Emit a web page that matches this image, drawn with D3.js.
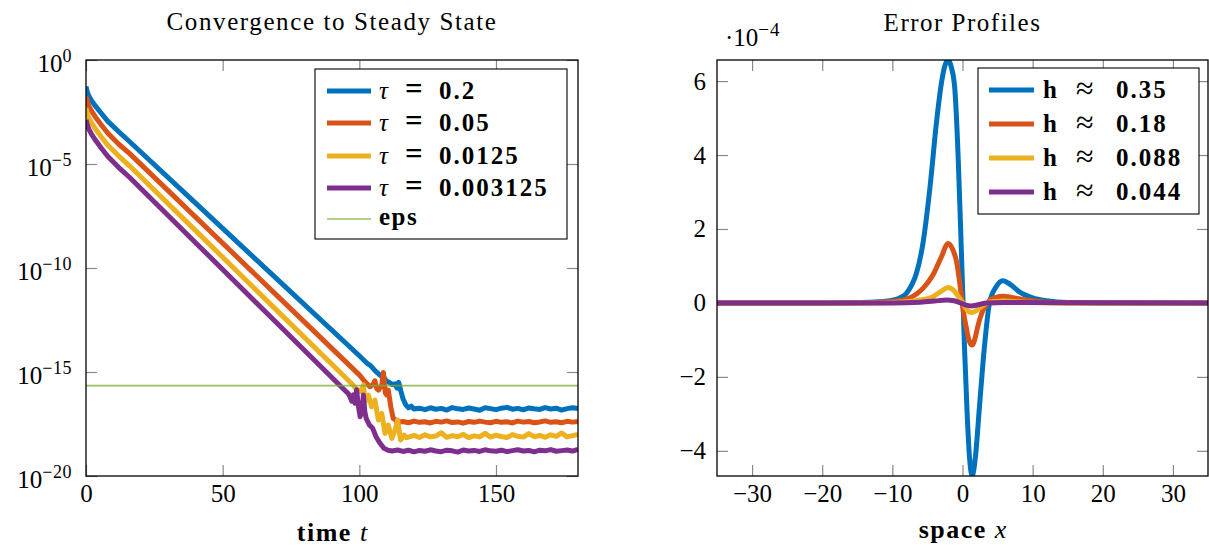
<!DOCTYPE html>
<html><head><meta charset="utf-8">
<script src="https://cdn.jsdelivr.net/npm/d3@7"></script>
<style>
body{margin:0;background:#fff}
svg{display:block}
text{font-family:'Liberation Serif','Times New Roman',serif;fill:#000}
</style>
</head><body>
<svg id="c" width="1209" height="548"></svg>
<script>
// ---------------- DATA ----------------
const colors = ["#0072BD", "#D95319", "#EDB120", "#7E2F8E"];
const epsColor = "#77AC30";
const tauLabels = ["0.2", "0.05", "0.0125", "0.003125"];
const hLabels = ["0.35", "0.18", "0.088", "0.044"];

const convXTicks = [0, 50, 100, 150];
const convYTickExp = [0, -5, -10, -15, -20];
const epsValue = 2.22e-16;

// [time t, log10(residual)]
const convTau0200 = [
  [0,-1.28],[0.5,-1.55],[1,-1.72],[2,-1.95],[3.5,-2.22],[5.5,-2.55],[8,-2.95],[12,-3.45],[16,-3.93],
  [40,-6.87],[70,-10.55],[100,-14.22],[103,-14.6],[104,-14.68],[106,-14.97],[108,-15.2],[109,-15.26],
  [110,-15.45],[111,-15.5],[112,-15.6],[113,-15.57],[113.8,-15.78],[114.4,-15.5],[115.2,-15.92],
  [116,-16.3],[117,-16.58],[118,-16.72],[119,-16.64],
  [120,-16.78],[122,-16.74],[124,-16.81],[126,-16.72],[128,-16.79],[130,-16.75],[132,-16.83],[134,-16.71],
  [136,-16.77],[138,-16.80],[140,-16.73],[142,-16.78],[144,-16.84],[146,-16.72],[148,-16.76],[150,-16.81],
  [152,-16.74],[154,-16.70],[156,-16.79],[158,-16.75],[160,-16.82],[162,-16.73],[164,-16.77],[166,-16.80],
  [168,-16.71],[170,-16.78],[172,-16.74],[174,-16.83],[176,-16.76],[178,-16.72],[180,-16.75]
];
const convTau0050 = [
  [0,-1.73],[0.5,-2.0],[1,-2.2],[2,-2.45],[3.5,-2.75],[5.5,-3.1],[8,-3.52],[12,-4.05],[16,-4.5],
  [40,-7.54],[70,-11.34],[100,-15.14],[101.5,-15.38],[102.7,-15.55],[103.9,-15.71],[105,-15.6],
  [105.7,-15.42],[106.4,-15.8],[107,-15.87],[108.2,-15.63],[108.8,-15.02],[109.5,-16.0],[110,-16.1],
  [110.6,-15.87],[111.5,-16.67],[112.4,-17.23],[113.2,-17.3],
  [114,-17.43],[116,-17.38],[118,-17.44],[120,-17.36],[122,-17.42],[124,-17.39],[126,-17.45],[128,-17.37],
  [130,-17.41],[132,-17.35],[134,-17.43],[136,-17.40],[138,-17.46],[140,-17.38],[142,-17.42],[144,-17.36],
  [146,-17.41],[148,-17.44],[150,-17.37],[152,-17.42],[154,-17.39],[156,-17.45],[158,-17.36],[160,-17.41],
  [162,-17.38],[164,-17.44],[166,-17.40],[168,-17.35],[170,-17.42],[172,-17.39],[174,-17.44],[176,-17.37],
  [178,-17.41],[180,-17.38]
];
const convTau0125 = [
  [0,-2.32],[0.5,-2.58],[1,-2.78],[2,-3.02],[3.5,-3.32],[5.5,-3.68],[8,-4.1],[12,-4.62],[16,-5.1],
  [40,-8.19],[70,-12.06],[97.8,-15.64],[98.7,-15.8],[99.6,-15.87],[100.5,-15.95],[101.5,-15.63],
  [102.1,-16.43],[102.7,-16.2],[103.3,-16.11],[104.5,-16.67],[105.7,-16.35],[106.4,-16.9],[107,-17.31],
  [108.2,-16.99],[109.4,-17.95],[110.6,-17.55],[111.9,-18.19],[113.1,-17.79],[114,-17.31],[115.1,-18.27],
  [116.4,-18.03],[117.2,-18.16],
  [118,-18.13],[120,-18.05],[122,-18.15],[124,-18.02],[126,-18.12],[128,-18.08],[130,-17.92],[132,-18.14],
  [134,-18.06],[136,-18.11],[138,-18.0],[140,-18.16],[142,-18.07],[144,-18.12],[146,-17.95],[148,-18.13],
  [150,-18.04],[152,-18.10],[154,-18.15],[156,-18.01],[158,-18.09],[160,-18.13],[162,-17.96],[164,-18.11],
  [166,-18.05],[168,-18.14],[170,-18.02],[172,-18.10],[174,-17.93],[176,-18.12],[178,-18.06],[180,-18.0]
];
const convTau0003 = [
  [0,-2.88],[0.5,-3.12],[1,-3.32],[2,-3.56],[3.5,-3.86],[5.5,-4.22],[8,-4.64],[12,-5.17],[16,-5.65],
  [40,-8.77],[70,-12.67],[92.9,-15.65],[96,-16.05],[96.6,-16.2],[97.2,-16.4],[97.8,-16.1],[98.4,-16.5],
  [99,-15.85],[99.6,-16.59],[100.3,-17.15],[101,-16.8],[101.5,-16.11],[102,-16.9],[102.5,-17.23],
  [103.7,-17.55],[104.9,-17.71],[106.1,-18.11],[107.6,-18.43],[109,-18.67],[110.5,-18.76],
  [112,-18.80],[114,-18.75],[116,-18.82],[118,-18.76],[120,-18.84],[122,-18.77],[124,-18.81],[126,-18.74],
  [128,-18.80],[130,-18.83],[132,-18.76],[134,-18.79],[136,-18.85],[138,-18.75],[140,-18.80],[142,-18.77],
  [144,-18.82],[146,-18.74],[148,-18.79],[150,-18.81],[152,-18.76],[154,-18.83],[156,-18.78],[158,-18.74],
  [160,-18.80],[162,-18.77],[164,-18.84],[166,-18.76],[168,-18.79],[170,-18.73],[172,-18.81],[174,-18.78],
  [176,-18.75],[178,-18.80],[180,-18.72]
];
const convSeries = [convTau0200, convTau0050, convTau0125, convTau0003];

// Error profiles: [x, error in units of 1e-4]
const errXTicks = [-30, -20, -10, 0, 10, 20, 30];
const errYTicks = [-4, -2, 0, 2, 4, 6];
const errScaleExp = -4;
const errH035 = [
  [-35,0],[-20,0],[-15,0.01],[-12,0.03],[-10.4,0.06],[-9,0.13],[-8,0.26],[-7.2,0.5],[-6.6,0.78],
  [-5.6,1.66],[-4.65,3.1],[-3.7,4.9],[-3.0,5.95],[-2.5,6.42],[-2.05,6.57],[-1.6,6.38],[-1.1,5.8],
  [-0.63,4.0],[-0.3,2.2],[0.08,0.0],[0.28,-1.18],[0.66,-2.98],[0.99,-4.15],[1.38,-4.68],[1.85,-4.15],
  [2.42,-2.8],[3.13,-1.18],[3.85,0.0],[4.8,0.44],[5.75,0.6],[6.8,0.5],[8.1,0.3],[10,0.14],[12,0.06],
  [15,0.01],[20,0],[35,0]
];
const errH018 = [
  [-35,0],[-15,0],[-10,0.04],[-8,0.1],[-6.5,0.25],[-5.6,0.4],[-4.2,0.76],[-3,1.25],[-2.05,1.61],
  [-1.4,1.45],[-0.85,1.12],[-0.4,0.55],[-0.1,0.08],[0.1,-0.2],[0.52,-0.65],[1.0,-1.05],[1.38,-1.14],
  [1.8,-0.95],[2.2,-0.62],[2.8,-0.25],[3.37,-0.05],[3.8,0.06],[4.8,0.15],[5.75,0.18],[7,0.15],
  [9,0.08],[12,0.02],[15,0],[35,0]
];
const errH0088 = [
  [-35,0],[-12,0],[-8,0.03],[-6,0.08],[-4.2,0.17],[-3,0.32],[-2.05,0.42],[-1.2,0.33],[-0.5,0.15],
  [0.1,-0.02],[0.6,-0.18],[1.3,-0.26],[2.0,-0.2],[2.8,-0.08],[3.5,0],[4.5,0.04],[6,0.05],[9,0.02],
  [13,0],[35,0]
];
const errH0044 = [
  [-35,0],[-10,0],[-6,0.02],[-4,0.05],[-2.3,0.08],[-1.2,0.06],[-0.3,0],[0.5,-0.06],[1.2,-0.08],
  [2.2,-0.05],[3.5,0],[6,0.01],[35,0]
];
const errSeries = [errH035, errH018, errH0088, errH0044];

// ---------------- DRAW ----------------
const svg = d3.select("#c");
const TICK = 11, TICKCOL = "#8a8a8a";

function styleAxis(g) {
  g.select(".domain").remove();
  g.selectAll(".tick line").attr("stroke", TICKCOL).attr("stroke-width", 1.2);
}

// ===== Left: convergence =====
const L = {x0: 86, x1: 578, y0: 60, y1: 476};
const xL = d3.scaleLinear().domain([0, 180]).range([L.x0, L.x1]);
const yL = d3.scaleLog().domain([1e-20, 1]).range([L.y1, L.y0]);
const yTickVals = convYTickExp.map(e => Math.pow(10, e));

svg.append("defs").html(
  `<clipPath id="clipL"><rect x="${L.x0}" y="${L.y0}" width="${L.x1-L.x0}" height="${L.y1-L.y0}"/></clipPath>` +
  `<clipPath id="clipR"><rect x="717" y="60" width="491" height="416"/></clipPath>`);

svg.append("g").attr("transform", `translate(0,${L.y1})`)
  .call(d3.axisBottom(xL).tickValues(convXTicks).tickSizeInner(-TICK).tickSizeOuter(0).tickPadding(8))
  .call(styleAxis)
  .call(g => g.selectAll("text").attr("font-size", 25));
svg.append("g").attr("transform", `translate(0,${L.y0})`)
  .call(d3.axisTop(xL).tickValues(convXTicks).tickSizeInner(-TICK).tickSizeOuter(0).tickFormat(""))
  .call(styleAxis);
svg.append("g").attr("transform", `translate(${L.x0},0)`)
  .call(d3.axisLeft(yL).tickValues(yTickVals).tickSizeInner(-TICK).tickSizeOuter(0).tickFormat(""))
  .call(styleAxis);
svg.append("g").attr("transform", `translate(${L.x1},0)`)
  .call(d3.axisRight(yL).tickValues(yTickVals).tickSizeInner(-TICK).tickSizeOuter(0).tickFormat(""))
  .call(styleAxis);

// log labels 10^e
const ylab = svg.append("g");
convYTickExp.forEach(e => {
  const t = ylab.append("text").attr("x", L.x0 - 14).attr("y", yL(Math.pow(10, e)) + 12)
    .attr("text-anchor", "end").attr("font-size", 25).text("10");
  t.append("tspan").attr("dy", -10).attr("font-size", 18).attr("letter-spacing", 0.5)
    .text(e === 0 ? "0" : "\u2212" + Math.abs(e));
});

const lineL = d3.line().x(d => xL(d[0])).y(d => yL(Math.pow(10, d[1])));
const gL = svg.append("g").attr("clip-path", "url(#clipL)");
convSeries.forEach((s, i) => {
  gL.append("path").datum(s).attr("d", lineL).attr("fill", "none")
    .attr("stroke", colors[i]).attr("stroke-width", 5).attr("stroke-linejoin", "round");
});
gL.append("line").attr("x1", L.x0).attr("x2", L.x1).attr("y1", yL(epsValue)).attr("y2", yL(epsValue))
  .attr("stroke", epsColor).attr("stroke-opacity", 0.75).attr("stroke-width", 1.6);

svg.append("rect").attr("x", L.x0).attr("y", L.y0).attr("width", L.x1 - L.x0).attr("height", L.y1 - L.y0)
  .attr("fill", "none").attr("stroke", "#000").attr("stroke-width", 1.3);

// legend left
const lgL = svg.append("g");
lgL.append("rect").attr("x", 315).attr("y", 69).attr("width", 252).attr("height", 170)
  .attr("fill", "#fff").attr("stroke", "#000").attr("stroke-width", 1.1);
const rowsL = [91, 123, 156, 188, 219];
tauLabels.forEach((lab, i) => {
  const y = rowsL[i];
  lgL.append("line").attr("x1", 327).attr("x2", 371).attr("y1", y).attr("y2", y)
    .attr("stroke", colors[i]).attr("stroke-width", 5);
  const t = lgL.append("text").attr("y", y + 8).attr("font-size", 25);
  t.append("tspan").attr("x", 379).attr("font-style", "italic").text("\u03c4");
  t.append("tspan").attr("x", 405).attr("font-weight", "bold").attr("font-size", 31).text("=");
  t.append("tspan").attr("x", 439).attr("font-weight", "bold").attr("letter-spacing", 2).text(lab);
});
lgL.append("line").attr("x1", 327).attr("x2", 371).attr("y1", rowsL[4]).attr("y2", rowsL[4])
  .attr("stroke", epsColor).attr("stroke-opacity", 0.75).attr("stroke-width", 1.6);
lgL.append("text").attr("x", 379).attr("y", rowsL[4] + 6).attr("font-size", 25)
  .attr("font-weight", "bold").attr("letter-spacing", 1.5).text("eps");

svg.append("text").attr("x", (L.x0 + L.x1) / 2).attr("y", 30).attr("text-anchor", "middle")
  .attr("font-size", 25).attr("letter-spacing", 1.6).text("Convergence to Steady State");
const xlabL = svg.append("text").attr("x", (L.x0 + L.x1) / 2).attr("y", 541).attr("text-anchor", "middle").attr("font-size", 26);
xlabL.append("tspan").attr("font-weight", "bold").attr("letter-spacing", 1.5).text("time ");
xlabL.append("tspan").attr("font-style", "italic").text("t");

// ===== Right: error profiles =====
const R = {x0: 717, x1: 1208, y0: 60, y1: 476};
const xR = d3.scaleLinear().domain([-35, 35]).range([R.x0, R.x1]);
const yR = d3.scaleLinear().domain([-4.68, 6.57]).range([R.y1, R.y0]);

svg.append("g").attr("transform", `translate(0,${R.y1})`)
  .call(d3.axisBottom(xR).tickValues(errXTicks).tickSizeInner(-TICK).tickSizeOuter(0).tickPadding(8))
  .call(styleAxis)
  .call(g => g.selectAll("text").attr("font-size", 25));
svg.append("g").attr("transform", `translate(0,${R.y0})`)
  .call(d3.axisTop(xR).tickValues(errXTicks).tickSizeInner(-TICK).tickSizeOuter(0).tickFormat(""))
  .call(styleAxis);
svg.append("g").attr("transform", `translate(${R.x0},0)`)
  .call(d3.axisLeft(yR).tickValues(errYTicks).tickSizeInner(-TICK).tickSizeOuter(0).tickPadding(11))
  .call(styleAxis)
  .call(g => g.selectAll("text").attr("font-size", 25));
svg.append("g").attr("transform", `translate(${R.x1},0)`)
  .call(d3.axisRight(yR).tickValues(errYTicks).tickSizeInner(-TICK).tickSizeOuter(0).tickFormat(""))
  .call(styleAxis);

const lineR = d3.line().x(d => xR(d[0])).y(d => yR(d[1])).curve(d3.curveMonotoneX);
const gR = svg.append("g").attr("clip-path", "url(#clipR)");
errSeries.forEach((s, i) => {
  gR.append("path").datum(s).attr("d", lineR).attr("fill", "none")
    .attr("stroke", colors[i]).attr("stroke-width", 5).attr("stroke-linejoin", "round");
});
svg.append("rect").attr("x", R.x0).attr("y", R.y0).attr("width", R.x1 - R.x0).attr("height", R.y1 - R.y0)
  .attr("fill", "none").attr("stroke", "#000").attr("stroke-width", 1.3);

const mult = svg.append("text").attr("x", 725).attr("y", 46).attr("font-size", 25).text("\u00b710");
mult.append("tspan").attr("dy", -10).attr("font-size", 19).attr("letter-spacing", 1)
  .text("\u2212" + Math.abs(errScaleExp));

// legend right
const lgR = svg.append("g");
lgR.append("rect").attr("x", 978).attr("y", 68).attr("width", 221).attr("height", 146)
  .attr("fill", "#fff").attr("stroke", "#000").attr("stroke-width", 1.1);
const rowsR = [90, 124, 158, 192];
hLabels.forEach((lab, i) => {
  const y = rowsR[i];
  lgR.append("line").attr("x1", 989).attr("x2", 1034).attr("y1", y).attr("y2", y)
    .attr("stroke", colors[i]).attr("stroke-width", 5);
  const t = lgR.append("text").attr("y", y + 8).attr("font-size", 25);
  t.append("tspan").attr("x", 1043).attr("font-weight", "bold").text("h");
  t.append("tspan").attr("x", 1076).attr("font-size", 32).attr("dy", 1).text("\u2248");
  t.append("tspan").attr("x", 1116).attr("dy", -1).attr("font-weight", "bold").attr("letter-spacing", 2).text(lab);
});

svg.append("text").attr("x", (R.x0 + R.x1) / 2).attr("y", 31).attr("text-anchor", "middle")
  .attr("font-size", 25).attr("letter-spacing", 1.5).text("Error Profiles");
const xlabR = svg.append("text").attr("x", (R.x0 + R.x1) / 2).attr("y", 538).attr("text-anchor", "middle").attr("font-size", 26);
xlabR.append("tspan").attr("font-weight", "bold").attr("letter-spacing", 1.5).text("space ");
xlabR.append("tspan").attr("font-style", "italic").text("x");
</script>
</body></html>
